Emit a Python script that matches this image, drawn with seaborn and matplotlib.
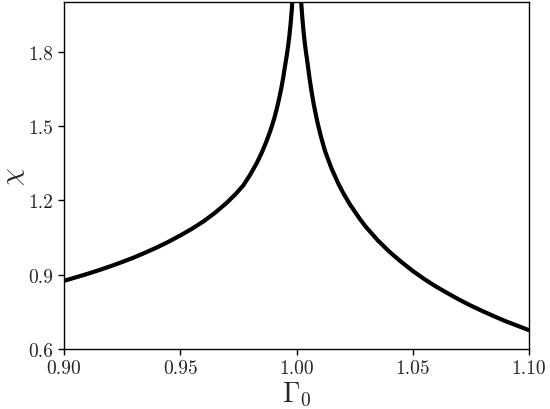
import matplotlib
matplotlib.use("Agg")
import matplotlib.pyplot as plt
import pandas as pd
import seaborn as sns

# Values (left and right of the peak at 1.0)
left_gamma = [0.900, 0.905, 0.910, 0.915, 0.920, 0.925, 0.930, 0.935,
              0.940, 0.945, 0.950, 0.955, 0.960, 0.965, 0.970, 0.974,
              0.9771, 0.980, 0.983, 0.985, 0.987, 0.9885, 0.9893, 0.9905,
              0.9915, 0.9925, 0.9935, 0.9943, 0.9951, 0.9958, 0.9965,
              0.9970, 0.9975, 0.9979, 0.9982]
left_chi = [0.875, 0.889, 0.903, 0.918, 0.934, 0.951, 0.969, 0.989,
            1.010, 1.033, 1.058, 1.085, 1.115, 1.150, 1.190, 1.227,
            1.260, 1.302, 1.352, 1.391, 1.436, 1.474, 1.496, 1.533,
            1.569, 1.609, 1.654, 1.696, 1.744, 1.783, 1.830,
            1.869, 1.916, 1.961, 2.000]

right_gamma = [1.0020, 1.0025, 1.0030, 1.0035, 1.0040, 1.0048, 1.0055,
               1.0065, 1.0075, 1.0090, 1.0105, 1.0123, 1.0150, 1.0178,
               1.0200, 1.0230, 1.0273, 1.0300, 1.0350, 1.0400, 1.0450,
               1.0500, 1.0550, 1.0600, 1.0650, 1.0700, 1.0750, 1.0800,
               1.0850, 1.0900, 1.0950, 1.1000]
right_chi = [2.000, 1.936, 1.884, 1.840, 1.802, 1.750, 1.699,
             1.637, 1.583, 1.515, 1.457, 1.398, 1.330, 1.271,
             1.231, 1.183, 1.124, 1.091, 1.038, 0.992, 0.952,
             0.915, 0.882, 0.852, 0.825, 0.799, 0.775, 0.753,
             0.732, 0.712, 0.694, 0.676]

x_ticks = [0.90, 0.95, 1.00, 1.05, 1.10]
y_ticks = [0.6, 0.9, 1.2, 1.5, 1.8]

sns.set_style("ticks")
plt.rcParams["font.family"] = ["cmr10", "DejaVu Serif"]
plt.rcParams["mathtext.fontset"] = "cm"
plt.rcParams["axes.formatter.use_mathtext"] = True

left = pd.DataFrame({"gamma": left_gamma, "chi": left_chi})
right = pd.DataFrame({"gamma": right_gamma, "chi": right_chi})

fig = plt.figure(figsize=(5.5, 4.1), dpi=100)
ax = fig.add_axes([0.1164, 0.1463, 0.8454, 0.8464])

sns.lineplot(data=left, x="gamma", y="chi", ax=ax, color="black",
             linewidth=3, estimator=None, sort=False)
sns.lineplot(data=right, x="gamma", y="chi", ax=ax, color="black",
             linewidth=3, estimator=None, sort=False)

ax.set_xlim(0.90, 1.10)
ax.set_ylim(0.6, 2.0)
ax.set_xticks(x_ticks)
ax.set_xticklabels([f"{v:.2f}" for v in x_ticks])
ax.set_yticks(y_ticks)
ax.set_yticklabels([f"{v:.1f}" for v in y_ticks])
ax.tick_params(labelsize=14, length=4, width=1, color="black", direction="out")

for s in ax.spines.values():
    s.set_color("black")
    s.set_linewidth(1)

ax.set_xlabel(r"$\Gamma_0$", fontsize=20, labelpad=2)
ax.set_ylabel(r"$\chi$", fontsize=20, labelpad=1)

fig.savefig("out.png", dpi=100)
